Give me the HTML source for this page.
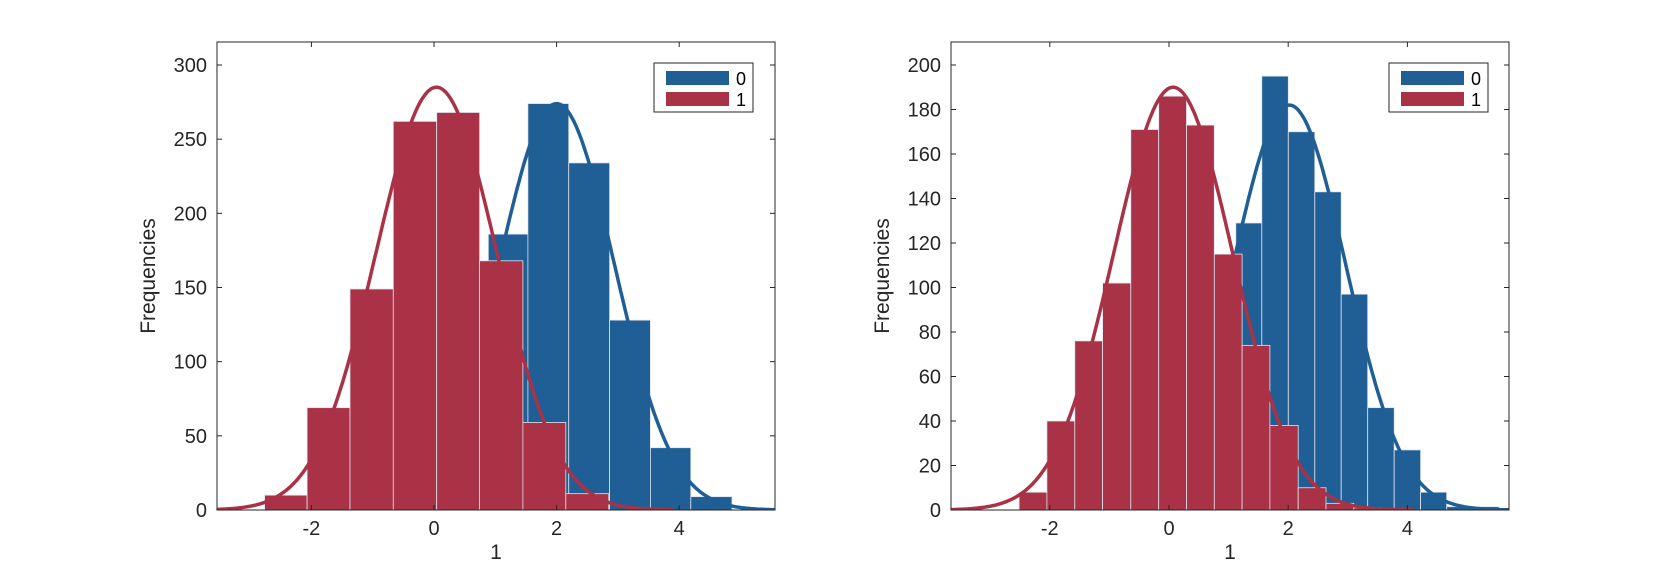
<!DOCTYPE html>
<html><head><meta charset="utf-8"><style>
html,body{margin:0;padding:0;background:#fff;}
svg{display:block;font-family:"Liberation Sans",sans-serif;}
</style></head><body>
<svg id="s" width="1667" height="573" xmlns="http://www.w3.org/2000/svg"></svg>
<script>
const S=document.getElementById('s');let h='';
const BLUE='#1f5f95',RED='#a93246',TXT='#262626';
function plot(o){
 const {L,R,T,B,x0,ux,sy,ymax,ystep,blue,red,bc,rc,xt,leg}=o;
 const X=v=>x0+ux*v, Y=v=>B-sy*v;
 h+=`<defs><clipPath id="c${L}"><rect x="${L}" y="${T}" width="${R-L}" height="${B-T}"/></clipPath></defs><g clip-path="url(#c${L})">`;
 const bars=(arr,col)=>{arr.forEach(b=>{h+=`<rect x="${b[0]}" y="${Y(b[2])}" width="${b[1]-b[0]}" height="${sy*b[2]}" fill="${col}" stroke="#dfe3ee" stroke-width="0.8"/>`;});};
 const curve=(c,col)=>{let d='';for(let i=0;i<=300;i++){const x=c.a+(c.b-c.a)*i/300;const y=c.p*Math.exp(-((x-c.m)**2)/(2*c.s*c.s));d+=(i?'L':'M')+X(x).toFixed(1)+' '+Y(y).toFixed(1);}h+=`<path d="${d}" fill="none" stroke="${col}" stroke-width="3.5"/>`;};
 bars(blue,BLUE);curve(bc,BLUE);bars(red,RED);curve(rc,RED);
 h+='</g>';
 h+=`<rect x="${L}" y="${T}" width="${R-L}" height="${B-T}" fill="none" stroke="${TXT}" stroke-width="1"/>`;
 for(let v=0;v<=ymax;v+=ystep){const y=Y(v);h+=`<line x1="${L}" x2="${L+5}" y1="${y}" y2="${y}" stroke="${TXT}"/><line x1="${R-5}" x2="${R}" y1="${y}" y2="${y}" stroke="${TXT}"/><text x="${L-10}" y="${y+7}" font-size="20" fill="${TXT}" text-anchor="end">${v}</text>`;}
 xt.forEach(v=>{const x=X(v);h+=`<line x1="${x}" x2="${x}" y1="${B}" y2="${B-5}" stroke="${TXT}"/><line x1="${x}" x2="${x}" y1="${T}" y2="${T+5}" stroke="${TXT}"/><text x="${x}" y="${B+25}" font-size="20" fill="${TXT}" text-anchor="middle">${v}</text>`;});
 h+=`<text x="${(L+R)/2}" y="559" font-size="21" fill="${TXT}" text-anchor="middle">1</text>`;
 h+=`<text transform="translate(${L-62},${(T+B)/2}) rotate(-90)" font-size="21" fill="${TXT}" text-anchor="middle">Frequencies</text>`;
 const g=leg;h+=`<rect x="${g}" y="63" width="99" height="49" fill="#fff" stroke="${TXT}"/><rect x="${g+12}" y="71" width="63" height="14" fill="${BLUE}"/><rect x="${g+12}" y="92" width="63" height="14" fill="${RED}"/><text x="${g+82}" y="85" font-size="18" fill="#000">0</text><text x="${g+82}" y="106" font-size="18" fill="#000">1</text>`;
}
function mk(edges,hs){return hs.map((v,i)=>[edges[i],edges[i+1],v]);}
let be=[325.8,366.4,407,447.7,488.3,527.9,568.75,609.6,650.4,690.8,732];
let re=[264.6,307.1,350,393.3,436.7,479.6,522.9,565.8,608.75];
plot({L:217,R:775,T:42,B:510,x0:434,ux:61.3,sy:445/300,ymax:300,ystep:50,
 blue:mk(be,[1,8,35,92,186,274,234,128,42,9]),
 red:mk(re,[10,69,149,262,268,168,59,11]),
 bc:{a:-1.45,b:6,m:2.0,s:0.94,p:274},rc:{a:-4,b:3.9,m:0.04,s:0.99,p:285},
 xt:[-2,0,2,4],leg:654});
let be2=[1156.3,1182.8,1209.3,1235.8,1261.8,1288.3,1314.8,1341.2,1367.7,1394.2,1420.6,1446.7,1473,1499];
let re2=[1019.1,1046.9,1074.8,1102.6,1130.8,1158.7,1186.5,1214.3,1242.1,1269.9,1298.2,1326,1353.8,1381.6];
plot({L:951,R:1509,T:42,B:510,x0:1169,ux:59.6,sy:2.225,ymax:200,ystep:20,
 blue:mk(be2,[8,30,70,129,195,170,143,97,46,27,8,1.5,1.5]),
 red:mk(re2,[8,40,76,102,171,186,173,115,74,38,10,3,1]),
 bc:{a:-1.45,b:6,m:2.02,s:0.945,p:182},rc:{a:-4.2,b:4.1,m:0.07,s:1.0,p:190},
 xt:[-2,0,2,4],leg:1389});
S.innerHTML=h;
</script>
</body></html>
